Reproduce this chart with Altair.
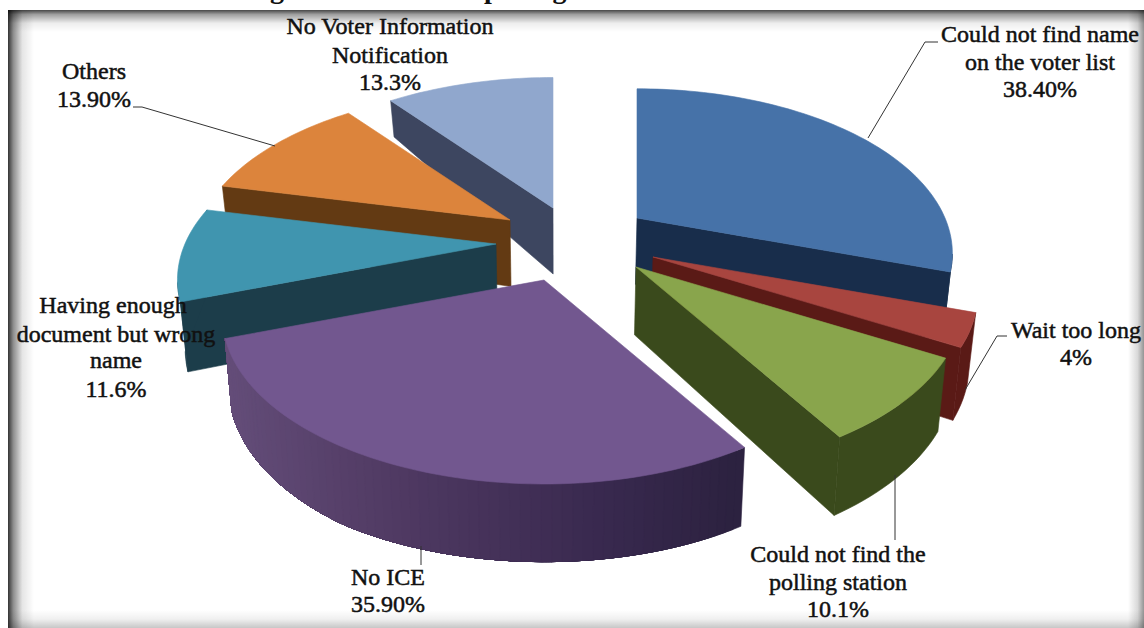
import math
import altair as alt
import numpy as np

# Survey shares printed on each slice, clockwise from twelve o'clock
categories = ["Could not find name on the voter list", "Wait too long",
              "Could not find the polling station", "No ICE",
              "Having enough document but wrong name", "Others",
              "No Voter Information Notification"]
values = [38.40, 4, 10.1, 35.90, 11.6, 13.90, 13.3]
top_colors = ["#4672a8", "#a8453f", "#89a54c", "#72578f", "#4095af", "#dc843c", "#90a7cd"]
wall_colors = ["#182d4b", "#5a1a16", "#3a4a1c", "#4a3862", "#1c3d4a", "#633a13", "#3d4660"]

# Exploded slice hubs in canvas pixels, and a per-slice radius factor
hub_x = [637, 653, 636, 544, 496, 510, 553]
hub_y = [218, 257, 267, 280, 244, 220, 208]
radius_k = [1.0, 1.03, 1.036, 1.02, 1.01, 1.005, 1.01]

# Painter's order: far slices first
draw_order = [6, 5, 4, 3, 0, 1, 2]

# Perspective pie model
RX, RY, PERSP = 308.0, 157.0, 0.215
VANISH_X = 560.0
depth_y = [100, 207, 272, 446, 530]
depth_px = [36, 66, 68, 79, 76]

# The No ICE outer wall darkens from left to right
purple_x = [220, 400, 600, 745]
purple_r = [101, 80, 58, 44]
purple_g = [78, 58, 42, 34]
purple_b = [122, 99, 80, 64]


def project(hub, ang, k):
    a = math.radians(ang)
    px, py = math.sin(a), -math.cos(a)
    s = 1.0 / (1.0 - PERSP * py)
    return hub[0] + k * RX * px * s, hub[1] + k * RY * py * s


def drop(p):
    return (VANISH_X + (p[0] - VANISH_X) * 0.98,
            p[1] + float(np.interp(p[1], depth_y, depth_px)))


def feature(ring, color):
    closed = [list(q) for q in ring] + [list(ring[0])]
    return {"type": "Feature",
            "geometry": {"type": "Polygon", "coordinates": [closed]},
            "properties": {"fill": color}}


def line_feature(points):
    return {"type": "Feature",
            "geometry": {"type": "LineString", "coordinates": points},
            "properties": {}}


def wall(points, color):
    # Extrude a run of top-face points down to the pie's lower rim
    return feature(list(points) + [drop(p) for p in reversed(points)], color)


total = sum(values)
starts = np.concatenate([[0], np.cumsum(values)])[:-1] / total * 360.0
sweeps = np.array(values) / total * 360.0

features = []
for i in draw_order:
    hub = (hub_x[i], hub_y[i])
    n = max(4, int(sweeps[i] / 1.5))
    arc = [project(hub, starts[i] + sweeps[i] * t / n, radius_k[i]) for t in range(n + 1)]
    outline = [hub] + arc

    # Only edges running right-to-left in clockwise order face the viewer
    if outline[1][0] < hub[0]:
        features.append(wall([hub, outline[1]], wall_colors[i]))
    if hub[0] < arc[-1][0]:
        features.append(wall([arc[-1], hub], wall_colors[i]))
    facing = [p for p, q in zip(arc[:-1], arc[1:]) if q[0] < p[0]]
    if facing:
        facing.append(arc[-1] if arc[-1][0] < facing[-1][0] else project(hub, starts[i] + sweeps[i], radius_k[i]))
    if facing and i == 3:
        # Overlapping bands paint the shaded curve without hairline seams
        for j in range(len(facing) - 1):
            mx = facing[j][0]
            color = "#%02x%02x%02x" % (int(np.interp(mx, purple_x, purple_r)),
                                       int(np.interp(mx, purple_x, purple_g)),
                                       int(np.interp(mx, purple_x, purple_b)))
            features.append(wall(facing[j:], color))
    elif facing:
        features.append(wall(facing, wall_colors[i]))
    features.append(feature(outline, top_colors[i]))

identity = dict(type="identity", scale=1, translate=[0, 0])


def frame_band(x0, y0, x1, y1, vec, stops):
    grad = alt.Gradient(gradient="linear", x1=vec[0], y1=vec[1], x2=vec[2], y2=vec[3],
                        stops=[alt.GradientStop(color=c, offset=o) for o, c in stops])
    poly = feature([(x0, y0), (x1, y0), (x1, y1), (x0, y1)], "none")
    return (alt.Chart(alt.Data(values=[poly])).mark_geoshape(fill=grad, strokeWidth=0)
            .project(**identity))


frame = [
    frame_band(8, 10, 34, 628, (0, 0, 1, 0),
               [(0, "rgba(0,0,0,0.80)"), (0.2, "rgba(0,0,0,0.45)"), (0.55, "rgba(0,0,0,0.10)"), (1, "rgba(0,0,0,0)")]),
    frame_band(8, 10, 1144, 32, (0, 0, 0, 1),
               [(0, "rgba(0,0,0,0.72)"), (0.2, "rgba(0,0,0,0.38)"), (0.6, "rgba(0,0,0,0.07)"), (1, "rgba(0,0,0,0)")]),
    frame_band(1128, 10, 1144, 628, (1, 0, 0, 0),
               [(0, "rgba(0,0,0,0.42)"), (0.4, "rgba(0,0,0,0.15)"), (1, "rgba(0,0,0,0)")]),
    frame_band(8, 610, 1144, 628, (0, 1, 0, 0),
               [(0, "rgba(0,0,0,0.22)"), (0.5, "rgba(0,0,0,0.06)"), (1, "rgba(0,0,0,0)")]),
]

slices = (alt.Chart(alt.Data(values=features)).mark_geoshape(strokeWidth=0.6)
          .encode(fill=alt.Fill("properties.fill:N", scale=None, legend=None),
                  stroke=alt.Stroke("properties.fill:N", scale=None, legend=None))
          .project(**identity))

# Leader lines from labels to slices
leaders = [
    [[868, 138], [925, 42], [938, 42]],
    [[133, 107], [142, 107], [275, 146]],
    [[1007, 336], [997, 336], [965, 390]],
    [[895, 475], [895, 540]],
    [[421, 546], [421, 565]],
]
leader_layer = (alt.Chart(alt.Data(values=[line_feature(p) for p in leaders]))
                .mark_geoshape(filled=False, stroke="#333333", strokeWidth=1)
                .project(**identity))

# Data label lines
label_text = ["Could not find name", "on the voter list", "38.40%",
              "Wait too long", "4%",
              "Could not find the", "polling station", "10.1%",
              "No ICE", "35.90%",
              "Having enough", "document but wrong", "name", "11.6%",
              "Others", "13.90%",
              "No Voter Information", "Notification", "13.3%"]
label_x = [1040, 1040, 1040, 1076, 1076, 838, 838, 838, 388, 388, 113, 116, 116, 116, 94, 94, 390, 390, 390]
label_y = [42, 70, 97, 338, 365, 562, 590, 617, 585, 612, 313, 342, 368, 397, 79, 107, 34, 63, 90]
labels_data = [{"t": t, "lon": x, "lat": y} for t, x, y in zip(label_text, label_x, label_y)]

labels = (alt.Chart(alt.Data(values=labels_data))
          .mark_text(font="Liberation Serif", fontSize=24, color="#111111", stroke="#111111",
                     strokeWidth=0.5, align="center", baseline="alphabetic")
          .encode(longitude="lon:Q", latitude="lat:Q", text="t:N")
          .project(**identity))

title_data = [{"t": "Figure 10: Issues at polling station", "lon": 245, "lat": -2}]
title = (alt.Chart(alt.Data(values=title_data))
         .mark_text(font="Liberation Serif", fontSize=28, fontWeight="bold", color="#111111",
                    align="left", baseline="alphabetic")
         .encode(longitude="lon:Q", latitude="lat:Q", text="t:N")
         .project(**identity))

chart = (alt.layer(*frame, slices, leader_layer, labels, title)
         .properties(width=1144, height=628, padding=0,
                     autosize=alt.AutoSizeParams(type="none"), background="white")
         .configure_view(stroke=None))

chart.save("out.html", embed_options={"renderer": "svg", "actions": False})
